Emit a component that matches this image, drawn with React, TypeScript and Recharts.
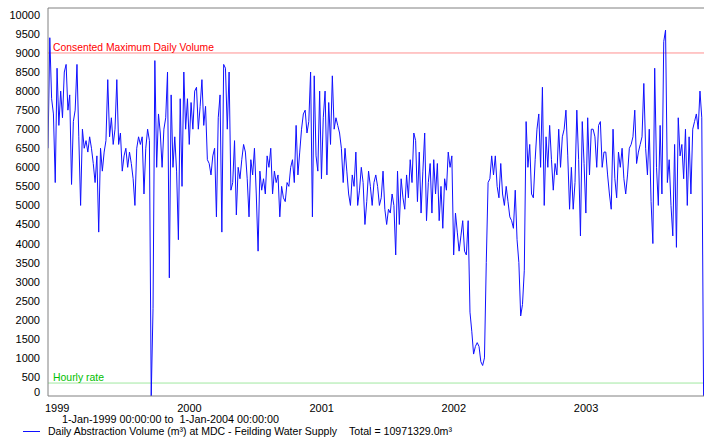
import React from 'react';
import { LineChart, Line, XAxis, YAxis, ReferenceLine } from 'recharts';

const YEARS = [1999, 2000, 2001, 2002, 2003];
const STEPS_PER_YEAR = 73; // one reading every 5 days

const y1999 = [
  6500, 9400, 7800, 7400, 5600, 8600, 7100, 8000, 7300, 8500,
  8700, 7500, 7900, 5550, 7200, 7500, 8700, 6800, 5000, 7000,
  6500, 6700, 6400, 6800, 6500, 6100, 5600, 6300, 4300, 6500,
  5900, 6400, 6700, 8300, 6800, 7300, 6600, 7000, 8300, 6600,
  6900, 5900, 6300, 6500, 6000, 6400, 6100, 5700, 5000, 6500,
  6800, 6600, 6800, 5300, 6500, 7000, 6700, 0, 2300, 8800,
  6000, 7400, 6900, 6000, 7000, 7300, 8500, 3100, 7900, 6000,
  6800, 5900, 4100,
];
const y2000 = [
  7800, 5500, 8500, 7000, 7800, 6600, 7700, 7000, 8000, 8100,
  7000, 7600, 8300, 7100, 7600, 6200, 6100, 5800, 6300, 6500,
  4700, 7300, 7900, 4300, 8700, 8600, 7000, 8500, 5400,
  5600, 6700, 4750, 6000, 5700, 6200, 6600, 6400, 5700, 4700,
  6200, 5800, 6500, 5300, 3800, 5900, 5400, 5700, 5300, 6300,
  6000, 6500, 5300, 5900, 5600, 5800, 4700, 5500, 5200, 5100,
  5600, 5500, 6000, 6200, 5600, 7100, 5800, 6400, 7000, 7400,
  7500, 6900, 7200, 8500,
];
const y2001 = [
  4700, 8400, 6300, 5900, 8000, 5700, 7300, 8000, 5800, 7700,
  6600, 8400, 7000, 7300, 7100, 6900,
  6500, 5600, 6500, 5900, 5300, 5000, 5800, 5500, 6400, 5000,
  5400, 6000, 5600, 4500, 5100, 5900, 5500, 5000, 5600, 5800,
  5500, 5000, 5200, 5900, 4900, 4500, 4900, 4800, 5300, 5000,
  3700, 5900, 4500, 5700, 5200, 4900, 5800, 5200, 6200, 5600,
  6900, 6700, 5100, 6400, 4800, 5900, 6900, 4600, 5600, 6100,
  4800, 6200, 5300, 6100, 4600, 5500, 4400,
];
const y2002 = [
  5700, 5400, 6400, 6000, 6300, 3700, 4800, 4300, 3800, 4200,
  4600, 3800, 3700, 4600, 2200, 1700, 1100, 1300, 1400, 1300,
  900, 800, 1000, 3500, 5600, 5700, 6300, 5800, 6300, 5500,
  5200, 6100, 5300, 5000, 5500, 5100, 4700, 4600, 4400, 5400,
  4100, 3500, 2100, 2400, 3300, 7200, 6000, 6600, 5300, 5200,
  6200, 7000, 7400, 6000, 8100, 5000, 6800, 6000, 7100, 6200,
  5400, 6100, 5800, 7000,
  6000, 6800, 7000, 7500, 6300, 4900, 6000, 4900, 5600,
];
const y2003 = [
  7500, 6200, 4200, 7200, 6100, 4800, 7300, 5800, 7000, 7000,
  6800, 6000, 7100, 7200, 6000, 6400, 6400, 5800, 5300, 4900,
  7000, 5700, 5200, 6400, 6000, 6500, 5700, 5300, 5800, 6500,
  6600, 6800, 7500, 6100, 6400, 6600, 6800, 8200, 6500, 5800,
  7000, 5100, 4000, 8600, 6000, 5000, 7100, 5300, 9300, 9600,
  5600, 6200, 5000, 4200, 6600, 3900, 7300, 6300, 6600, 5700,
  7000, 5000, 6800, 5300, 7000, 7200, 7400, 7000, 8000, 7300,
  0,
];

const CONSENTED_MAX = 9000;
const HOURLY_RATE = 340;
const Y_TICKS = [0, 500, 1000, 1500, 2000, 2500, 3000, 3500, 4000, 4500, 5000,
  5500, 6000, 6500, 7000, 7500, 8000, 8500, 9000, 9500, 10000];
const X_TICKS = [0, 1, 2, 3, 4];
const X_MAX = 4.962;
const Y_MAX = 10180;

const SERIES_NAME = 'Daily Abstraction Volume (m\u00B3) at MDC - Feilding Water Supply';
const PERIOD_TEXT = '1-Jan-1999 00:00:00 to  1-Jan-2004 00:00:00';
const TOTAL_TEXT = 'Total = 10971329.0m\u00B3';
const CONSENTED_LABEL = 'Consented Maximum Daily Volume';
const HOURLY_LABEL = 'Hourly rate';

const series = [y1999, y2000, y2001, y2002, y2003];
const data = series.flatMap((arr, k) =>
  arr.map((v, i) => ({ t: k + i / STEPS_PER_YEAR, v }))
);

const FONT = "'Liberation Sans', Arial, sans-serif";
const LINE_BLUE = '#1010ff';

const XTick = (p: any) => (
  <text x={p.x - 3} y={p.y} dy="0.71em" fontSize={11} fontFamily={FONT} fill="#000">
    {YEARS[Math.round(p.payload.value)]}
  </text>
);

const YTick = (p: any) => (
  <text
    x={p.x}
    y={p.y}
    dy={p.payload.value === 0 ? 0 : 4}
    textAnchor="end"
    fontSize={11}
    fontFamily={FONT}
    fill="#000"
  >
    {p.payload.value}
  </text>
);

const refLabel = (text: string, color: string, len: number) => (props: any) => {
  const vb = props.viewBox || {};
  return (
    <text
      x={(vb.x ?? 48) + 5}
      y={(vb.y ?? 0) - 2}
      fontSize={11}
      fontFamily={FONT}
      fill={color}
      textLength={len}
      lengthAdjust="spacingAndGlyphs"
    >
      {text}
    </text>
  );
};

export default function App() {
  return (
    <div style={{ position: 'absolute', left: 0, top: 0, width: 704, height: 440, background: '#fff' }}>
      <LineChart
        width={704}
        height={440}
        data={data}
        margin={{ top: 8, right: 0, bottom: 0, left: 0 }}
      >
        <XAxis
          type="number"
          dataKey="t"
          domain={[0, X_MAX]}
          ticks={X_TICKS}
          allowDataOverflow
          height={44}
          tick={<XTick />}
          tickLine={false}
          axisLine={{ stroke: '#808080' }}
        />
        <YAxis
          type="number"
          domain={[0, Y_MAX]}
          ticks={Y_TICKS}
          allowDataOverflow
          width={48}
          tick={<YTick />}
          tickLine={false}
          axisLine={{ stroke: '#808080' }}
          interval={0}
        />
        <ReferenceLine y={Y_MAX} stroke="#808080" />
        <ReferenceLine
          y={CONSENTED_MAX}
          stroke="#ff9090"
          label={refLabel(CONSENTED_LABEL, '#ff0000', 161)}
        />
        <ReferenceLine
          y={HOURLY_RATE}
          stroke="#a0e8a0"
          label={refLabel(HOURLY_LABEL, '#00c000', 51)}
        />
        <Line
          type="linear"
          dataKey="v"
          stroke={LINE_BLUE}
          strokeWidth={1}
          dot={false}
          isAnimationActive={false}
        />
      </LineChart>
      <svg
        width={704}
        height={440}
        style={{ position: 'absolute', left: 0, top: 0, pointerEvents: 'none' }}
      >
        <text
          x={62}
          y={423}
          fontSize={11}
          fontFamily={FONT}
          fill="#000"
          style={{ whiteSpace: 'pre' }}
          textLength={217}
          lengthAdjust="spacingAndGlyphs"
        >
          {PERIOD_TEXT}
        </text>
        <line x1={23} x2={40} y1={431.5} y2={431.5} stroke={LINE_BLUE} strokeWidth={1} />
        <text
          x={48}
          y={435}
          fontSize={11}
          fontFamily={FONT}
          fill="#000"
          textLength={289}
          lengthAdjust="spacingAndGlyphs"
        >
          {SERIES_NAME}
        </text>
        <text
          x={349}
          y={435}
          fontSize={11}
          fontFamily={FONT}
          fill="#000"
          textLength={103}
          lengthAdjust="spacingAndGlyphs"
        >
          {TOTAL_TEXT}
        </text>
      </svg>
    </div>
  );
}
